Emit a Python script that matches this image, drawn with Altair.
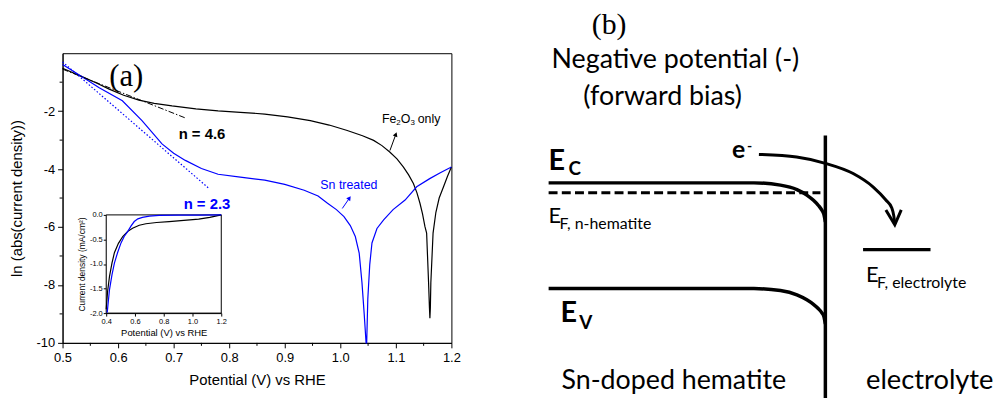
import altair as alt
import pandas as pd

# ---------------- Panel (a): main semilog curves ----------------
fe_x = [0.500, 0.533, 0.560, 0.584, 0.610, 0.6375, 0.665, 0.697, 0.740, 0.780,
        0.820, 0.864, 0.905, 0.946, 0.980, 1.0125, 1.040, 1.060, 1.075, 1.089,
        1.102, 1.1137, 1.123, 1.1316, 1.138, 1.1434, 1.148, 1.1523, 1.1554, 1.1589,
        1.1605, 1.1613, 1.1621, 1.163, 1.167, 1.172, 1.178, 1.186, 1.193, 1.200]
fe_y = [-0.52, -0.79, -1.02, -1.24, -1.45, -1.62, -1.73, -1.82, -1.92, -1.99,
        -2.04, -2.10, -2.20, -2.33, -2.48, -2.67, -2.85, -3.01, -3.19, -3.41,
        -3.65, -3.93, -4.20, -4.50, -4.82, -5.18, -5.55, -5.98, -6.21, -7.92,
        -8.80, -9.15, -8.80, -7.92, -6.21, -5.50, -5.00, -4.60, -4.25, -3.93]

sn_x = [0.500, 0.533, 0.566, 0.6077, 0.643, 0.679, 0.700, 0.721, 0.750, 0.780,
        0.820, 0.864, 0.900, 0.935, 0.960, 0.977, 0.993, 1.0066, 1.018, 1.027,
        1.034, 1.039, 1.043, 1.0464, 1.0475, 1.0495, 1.053, 1.057, 1.066, 1.078,
        1.095, 1.1166, 1.1375, 1.161, 1.180, 1.200]
sn_y = [-0.39, -0.79, -1.19, -1.64, -2.33, -3.13, -3.45, -3.70, -3.98, -4.18,
        -4.28, -4.38, -4.53, -4.73, -4.93, -5.18, -5.40, -5.64, -5.95, -6.33,
        -6.90, -7.92, -9.00, -10.0, -10.0, -8.49, -7.30, -6.55, -6.05, -5.75,
        -5.40, -5.07, -4.61, -4.33, -4.13, -3.93]

fit_fe_x = [0.500, 0.723]
fit_fe_y = [-0.55, -2.25]
fit_sn_x = [0.500, 0.7625]
fit_sn_y = [-0.30, -4.65]

x_major = [0.5, 0.6, 0.7, 0.8, 0.9, 1.0, 1.1, 1.2]
x_minor = [0.55, 0.65, 0.75, 0.85, 0.95, 1.05, 1.15]
y_major = [-10, -8, -6, -4, -2]
y_minor = [-9, -7, -5, -3, -1]

# ---------------- Inset: linear current density ----------------
in_sn_x = [0.407, 0.415, 0.423, 0.440, 0.457, 0.480, 0.503, 0.525, 0.549, 0.572,
           0.595, 0.620, 0.652, 0.700, 0.768, 0.900, 1.050, 1.200]
in_sn_y = [-1.99, -1.75, -1.52, -1.22, -0.98, -0.76, -0.57, -0.44, -0.34, -0.23,
           -0.135, -0.08, -0.05, -0.025, -0.01, -0.005, -0.003, 0.0]
in_fe_x = [0.400, 0.410, 0.423, 0.440, 0.457, 0.485, 0.515, 0.548, 0.583, 0.630,
           0.676, 0.750, 0.837, 0.940, 1.043, 1.120, 1.200]
in_fe_y = [-1.92, -1.55, -1.25, -0.98, -0.77, -0.58, -0.44, -0.34, -0.27, -0.21,
           -0.18, -0.155, -0.135, -0.11, -0.087, -0.05, 0.0]
in_x_ticks = [0.4, 0.6, 0.8, 1.0, 1.2]
in_y_ticks = [-2.0, -1.5, -1.0, -0.5, 0.0]

# ---------------- Panel (b): band diagram (schematic units) ----------------
ec_x = [53, 260, 286.7, 303.3, 313.3, 320, 325, 328.3, 330.5, 332]
ec_y = [226.3, 226.3, 224, 219.5, 214, 208.7, 203.5, 199, 194.5, 187]
ev_x = [53, 260, 286.7, 303.3, 313.3, 320, 325, 328.3, 330.5, 332]
ev_y = [119.7, 119.7, 117.7, 113.4, 108.4, 103.8, 99.4, 95.5, 91.5, 84]
ef_x = [53, 327]
ef_y = [216.3, 216.3]
iface_x = [332, 332]
iface_y = [274, -5]
arrow_x = [265, 303, 332, 360, 380, 393, 399, 401, 402]
arrow_y = [255, 252.3, 246, 235.7, 222.3, 209, 201, 193, 185]
head_x = [393, 402, 408.5]
head_y = [199, 184, 199]
efe_x = [370, 438]
efe_y = [159, 159]

SANS = "Liberation Sans"
SERIF = "Liberation Serif"
CAL = "Lato"
BLUE = "#0000ff"

def df_xy(xs, ys):
    return pd.DataFrame({"x": xs, "y": ys, "i": list(range(len(xs)))})

# ---------- main scales / axes ----------
mx = alt.Scale(domain=[0.5, 1.2], nice=False, zero=False)
my = alt.Scale(domain=[-10, 0], nice=False, zero=False)
ax_x = alt.Axis(values=x_major, format=".1f", title="Potential (V) vs RHE", grid=False,
                tickSize=5, tickColor="black", domainColor="black", labelColor="black",
                titleColor="black", labelFont=SANS, titleFont=SANS, labelFontSize=13,
                titleFontSize=15, titleFontWeight="normal", labelPadding=4, titlePadding=8,
                labelFlush=False)
ax_y = alt.Axis(values=y_major, title="ln (abs(current density))", grid=False,
                labelExpr="datum.value < 0 ? '-' + format(-datum.value, 'd') : format(datum.value, 'd')",
                tickSize=5, tickColor="black", domainColor="black", labelColor="black",
                titleColor="black", labelFont=SANS, titleFont=SANS, labelFontSize=13,
                titleFontSize=15, titleFontWeight="normal", labelPadding=3, titlePadding=12,
                labelFlush=False)

def MX(f="x"):
    return alt.X(f + ":Q", scale=mx, axis=ax_x)

def MY(f="y"):
    return alt.Y(f + ":Q", scale=my, axis=ax_y)

def mline(xs, ys, color, width=1.2, dash=None):
    kw = dict(color=color, strokeWidth=width)
    if dash is not None:
        kw["strokeDash"] = dash
    return alt.Chart(df_xy(xs, ys)).mark_line(**kw).encode(x=MX(), y=MY(), order="i:Q")

main_layers = [
    mline(fe_x, fe_y, "black"),
    mline(sn_x, sn_y, BLUE),
    mline(fit_fe_x, fit_fe_y, "black", 1.0, [6, 2, 1.5, 2]),
    mline(fit_sn_x, fit_sn_y, BLUE, 1.2, [1.5, 2]),
    alt.Chart(pd.DataFrame({"x": x_minor})).mark_rule(color="black").encode(
        x=MX(), y=alt.value(292), y2=alt.value(295)),
    alt.Chart(pd.DataFrame({"y": y_minor})).mark_rule(color="black").encode(
        y=MY(), x=alt.value(0), x2=alt.value(-3)),
]

def mtext(x, y, text, size, color="black", weight="normal", font=SANS, dx=0, dy=0):
    return alt.Chart(pd.DataFrame({"x": [x], "y": [y], "t": [text]})).mark_text(
        align="left", baseline="alphabetic", font=font, fontSize=size, color=color,
        fontWeight=weight, dx=dx, dy=dy).encode(x=MX(), y=MY(), text="t:N")

main_layers += [
    mtext(0.584, -1.13, "(a)", 31, font=SERIF),
    mtext(0.709, -2.945, "n = 4.6", 15, weight="bold"),
    mtext(0.718, -5.38, "n = 2.3", 15, color=BLUE, weight="bold"),
    mtext(0.964, -4.69, "Sn treated", 12.5, color=BLUE),
    mtext(1.075, -2.40, "Fe", 12.5),
    mtext(1.075, -2.40, "2", 8, dx=14.4, dy=2.5),
    mtext(1.075, -2.40, "O", 12.5, dx=19),
    mtext(1.075, -2.40, "3", 8, dx=28.8, dy=2.5),
    mtext(1.075, -2.40, "only", 12.5, dx=36),
]

# arrows in panel (a)
arr_fe_x = [1.0893, 1.1000]
arr_fe_y = [-3.36, -2.80]
arr_sn_x = [1.0036, 1.0165]
arr_sn_y = [-5.36, -5.00]
main_layers += [
    mline(arr_fe_x, arr_fe_y, "black", 1.0),
    mline(arr_sn_x, arr_sn_y, BLUE, 1.0),
    alt.Chart(pd.DataFrame({"x": [arr_fe_x[1]], "y": [arr_fe_y[1]]})).mark_point(
        shape="triangle-up", filled=True, color="black", size=24, angle=21, opacity=1).encode(x=MX(), y=MY()),
    alt.Chart(pd.DataFrame({"x": [arr_sn_x[1]], "y": [arr_sn_y[1]]})).mark_point(
        shape="triangle-up", filled=True, color=BLUE, size=24, angle=36, opacity=1).encode(x=MX(), y=MY()),
]
main = alt.layer(*main_layers)

# ---------- inset ----------
ix = alt.Scale(domain=[0.4, 1.2], range=[44, 160], nice=False, zero=False)
iy = alt.Scale(domain=[-2, 0], range=[262, 163], nice=False, zero=False)
iax_x = alt.Axis(orient="bottom", offset=-30, values=in_x_ticks, format=".1f",
                 title="Potential (V) vs RHE", grid=False, tickSize=3, tickColor="black",
                 domainColor="black", labelColor="black", titleColor="black",
                 labelFont=SANS, titleFont=SANS, labelFontSize=7.5, titleFontSize=9.5,
                 titleFontWeight="normal", labelPadding=1, titlePadding=3, labelFlush=False)
iax_y = alt.Axis(orient="left", offset=-44, values=in_y_ticks,
                 labelExpr="datum.value < 0 ? '-' + format(-datum.value, '.1f') : format(datum.value, '.1f')",
                 title="Current density (mA/cm²)", grid=False, tickSize=3, tickColor="black",
                 domainColor="black", labelColor="black", titleColor="black",
                 labelFont=SANS, titleFont=SANS, labelFontSize=7.5, titleFontSize=8.5,
                 titleFontWeight="normal", labelPadding=1, titlePadding=3, labelFlush=False)

def iline(xs, ys, color):
    return alt.Chart(df_xy(xs, ys)).mark_line(color=color, strokeWidth=1.2).encode(
        x=alt.X("x:Q", scale=ix, axis=iax_x), y=alt.Y("y:Q", scale=iy, axis=iax_y), order="i:Q")

inset_frame = alt.Chart(pd.DataFrame({"x": [0.4], "x2": [1.2], "y": [-2.0], "y2": [0.0]})).mark_rect(
    fill="white", stroke="black", strokeWidth=1).encode(
    x=alt.X("x:Q", scale=ix, axis=iax_x), x2="x2:Q",
    y=alt.Y("y:Q", scale=iy, axis=iax_y), y2="y2:Q")
inset = alt.layer(inset_frame, iline(in_fe_x, in_fe_y, "black"), iline(in_sn_x, in_sn_y, BLUE))

# ---------- panel (b) ----------
bx = alt.Scale(domain=[0, 500], range=[437, 937], nice=False, zero=False)
by = alt.Scale(domain=[0, 409], range=[357, -52], nice=False, zero=False)

def BX():
    return alt.X("x:Q", scale=bx, axis=None)

def BY():
    return alt.Y("y:Q", scale=by, axis=None)

def bline(xs, ys, width=3.5, dash=None, interp="linear"):
    kw = dict(color="black", strokeWidth=width, interpolate=interp, strokeCap="butt")
    if dash is not None:
        kw["strokeDash"] = dash
    return alt.Chart(df_xy(xs, ys)).mark_line(**kw).encode(x=BX(), y=BY(), order="i:Q")

def btext(x, y, text, size, weight="normal", font=CAL, align="left"):
    return alt.Chart(pd.DataFrame({"x": [x], "y": [y], "t": [text]})).mark_text(
        align=align, baseline="alphabetic", font=font, fontSize=size, color="black",
        fontWeight=weight).encode(x=BX(), y=BY(), text="t:N")

schem = alt.layer(
    bline(ec_x, ec_y, 3.5, interp="monotone"),
    bline(ev_x, ev_y, 3.5, interp="monotone"),
    bline(ef_x, ef_y, 3.0, dash=[9, 4.3]),
    bline(iface_x, iface_y, 3.5),
    bline(arrow_x, arrow_y, 3.0, interp="monotone"),
    bline(head_x, head_y, 3.0),
    bline(efe_x, efe_y, 3.5),
    btext(114, 376, "(b)", 30, font=SERIF, align="center"),
    btext(56, 342, "Negative potential (-)", 27),
    btext(88, 305, "(forward bias)", 27),
    btext(53, 239, "E", 29, weight="bold"),
    btext(73, 234, "C", 19, weight="bold"),
    btext(53, 186, "E", 22),
    btext(64, 180, "F, n-hematite", 16),
    btext(238, 251, "e", 25, weight="bold"),
    btext(253, 258, "-", 14, weight="bold"),
    btext(373, 126, "E", 22),
    btext(384, 120, "F, electrolyte", 16),
    btext(65, 86, "E", 29, weight="bold"),
    btext(84, 79, "V", 19, weight="bold"),
    btext(66, 18, "Sn-doped hematite", 27),
    btext(373, 18, "electrolyte", 27.5),
)

chart = alt.layer(main, inset, schem).resolve_scale(
    x="independent", y="independent"
).properties(
    width=392, height=292,
    autosize=alt.AutoSizeParams(type="none"),
    padding={"left": 55, "top": 44, "right": 547, "bottom": 54},
    background="white",
).configure_view(stroke="black", strokeWidth=1)

chart.save("out.html", embed_options={"renderer": "svg", "actions": False})
